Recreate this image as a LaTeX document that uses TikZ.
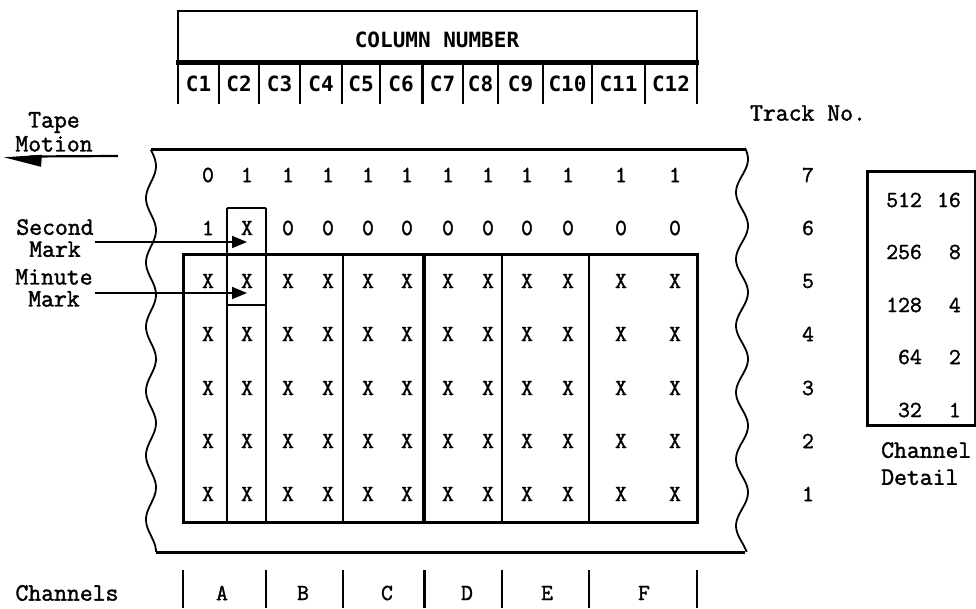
\documentclass[tikz,border=0pt]{standalone}
\usepackage{fontspec}
\newfontfamily\twfont[FakeBold=1.6]{Latin Modern Mono}
\newfontfamily\hdfont{DejaVu Sans Mono}
\usetikzlibrary{arrows.meta}
\begin{document}
\begin{tikzpicture}[x=1bp,y=-1bp,
  lbl/.style={font=\twfont\fontsize{25bp}{22bp}\selectfont,inner sep=0pt,align=center},
  cellt/.style={font=\twfont\fontsize{23bp}{23bp}\selectfont,inner sep=0pt},
  hdtext/.style={font=\hdfont\bfseries\fontsize{21bp}{21bp}\selectfont,inner sep=0pt},
  hline/.style={line width=1.8bp},
  heavy/.style={line width=3bp},
  tapeedge/.style={line width=1.8bp},
  markarrow/.style={line width=1.8bp,-{Triangle[length=15bp,width=12bp]}}
]
\useasboundingbox (0,0) rectangle (976,609);

% ---- column header ----
\draw[hline] (178,104) -- (178,11) -- (697,11) -- (697,104);
\draw[line width=5bp] (176,63) -- (699,63);
\node[hdtext] (colnum) at (437,40) {COLUMN NUMBER};
\foreach \x in {219,259,300,342,380,463,498,543,592,645}
  \draw[hline] (\x,63) -- (\x,104);
\draw[heavy] (422,63) -- (422,104);
\foreach \n/\x in {1/198.5,2/239,3/279.5,4/321,5/361,6/401,7/442.5,8/480.5,9/520.5,10/567.5,11/618.5,12/671}
  \node[hdtext] (c\n) at (\x,84) {C\n};

% ---- tape outline ----
\draw[tapeedge] plot[domain=150:552,samples=140,smooth] ({151+5*sin((\x-150)*5.6)},\x);
\draw[tapeedge] plot[domain=148:552,samples=140,smooth] ({742+6*sin((\x-148)*5.4+30)},\x);
\draw[heavy] (151,150) -- (745,150);
\draw[heavy] (156,552) -- (745,552);

% ---- grid of tracks ----
\draw[heavy] (183,255) rectangle (697,522);
\draw[hline] (227,208) -- (266,208);
\draw[hline] (227,208) -- (227,522);
\draw[hline] (266,208) -- (266,522);
\draw[hline] (227,305) -- (266,305);
\foreach \x in {343,502,589} \draw[hline] (\x,255) -- (\x,522);
\draw[line width=4bp] (424,255) -- (424,522);

% row 7 and row 6
\foreach \c/\x/\v in {1/208/0,2/247/1,3/288/1,4/328/1,5/368/1,6/407/1,7/448/1,8/488/1,9/527/1,10/568/1,11/621/1,12/675/1}
  \node[cellt] (r7c\c) at (\x,175) {\v};
\foreach \c/\x/\v in {1/208/1,2/247/X,3/288/0,4/328/0,5/368/0,6/407/0,7/448/0,8/488/0,9/527/0,10/568/0,11/621/0,12/675/0}
  \node[cellt] (r6c\c) at (\x,228) {\v};
\foreach \r/\y in {5/281,4/334,3/388,2/441,1/494}
  \foreach \c/\x in {1/208,2/247,3/288,4/328,5/368,6/407,7/448,8/488,9/527,10/568,11/621,12/675}
    \node[cellt] (r\r c\c) at (\x,\y) {X};

% track numbers
\node[lbl] (trackno) at (808,113) {Track No.};
\foreach \r/\y in {7/175,6/228,5/281,4/334,3/388,2/441,1/494}
  \node[cellt] (t\r) at (808,\y) {\r};

% ---- tape motion ----
\node[lbl,anchor=north,font=\twfont\fontsize{25bp}{24bp}\selectfont] (tm) at (54,112) {Tape\\Motion};
\coordinate (tmstart) at (118,156);
\coordinate (tmend) at (30,156.5);
\draw[line width=2.2bp] (tmstart) -- (tmend);
\fill (tmend) ++(-26,0.8) -- ++(38,-2.5) -- ++(-1,12) -- cycle;

% ---- second and minute marks ----
\node[lbl,anchor=north] (sm) at (55,219) {Second\\Mark};
\node[lbl,anchor=north] (mm) at (54,269) {Minute\\Mark};
\coordinate (smtip) at (247,242);
\coordinate (mmtip) at (247,293);
\draw[markarrow] (95,242) -- (smtip);
\draw[markarrow] (95,293) -- (mmtip);

% ---- channel detail ----
\draw[heavy] (867,172) rectangle (975,425);
\foreach \a/\b/\y in {512/16/200,256/8/252,128/4/305,64/2/357,32/1/410}{
  \node[cellt,anchor=east] (cd\a) at (922,\y) {\a};
  \node[cellt,anchor=east] (cdr\b) at (961,\y) {\b};
}
\node[lbl,anchor=north west,align=left,font=\twfont\fontsize{25bp}{27bp}\selectfont] (cdet) at (881,442) {Channel\\Detail};

% ---- channels row ----
\node[lbl] (chan) at (67,593) {Channels};
\foreach \x in {183,266,343,502,589,697} \draw[hline] (\x,570) -- (\x,608);
\draw[heavy] (424,570) -- (424,608);
\foreach \n/\x in {A/222,B/303,C/387,D/467,E/547,F/644}
  \node[cellt] (ch\n) at (\x,593) {\n};
\end{tikzpicture}
\end{document}
